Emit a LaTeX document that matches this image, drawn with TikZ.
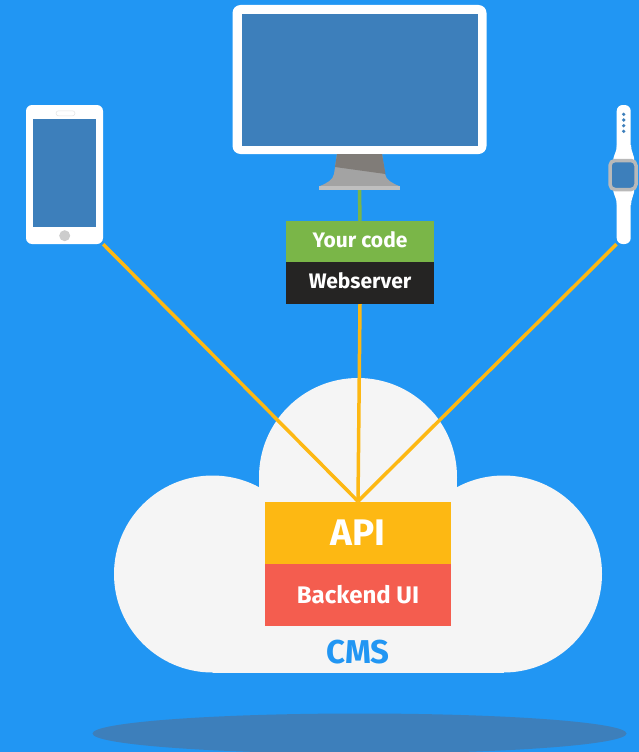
\documentclass[tikz,border=0pt]{standalone}
\usepackage{fontspec}
\setmainfont{Fira Sans}
\usetikzlibrary{backgrounds}
\definecolor{skyblue}{HTML}{2196F3}
\definecolor{steelscreen}{HTML}{3D7FBB}
\definecolor{cloudwhite}{HTML}{F5F5F5}
\definecolor{apiyellow}{HTML}{FDB813}
\definecolor{backendred}{HTML}{F45D4F}
\definecolor{codegreen}{HTML}{7AB648}
\definecolor{serverblack}{HTML}{252423}
\definecolor{standdark}{HTML}{807C78}
\definecolor{standlight}{HTML}{A3A3A3}
\tikzset{
  block/.style={inner sep=0pt,minimum width=148pt,minimum height=41.5pt,text=white,text height=15pt,text depth=4pt,font=\bfseries\fontsize{21}{25}\selectfont},
  cmsblock/.style={inner sep=0pt,minimum width=186pt,minimum height=62pt,text=white},
  device/.style={fill=white,inner sep=0pt},
  screen/.style={fill=steelscreen,inner sep=0pt},
  apilink/.style={draw=apiyellow,line width=3.5pt},
}
\begin{document}
\begin{tikzpicture}[x=1pt,y=-1pt]
\useasboundingbox (0,0) rectangle (639,752);
% devices
\node[device,rounded corners=8pt,minimum width=254pt,minimum height=149pt] (monitor) at (359.5,79.5) {};
\node[screen,minimum width=236pt,minimum height=132pt] (monitorscreen) at (359.5,80) {};
\fill[standlight] (337,154) -- (382,154) -- (385,174) .. controls (386,180) and (392,183) .. (399,186) -- (320,186) .. controls (327,183) and (333,180) .. (334,174) -- cycle;
\fill[standdark] (337,154) -- (382,154) -- (385.5,174) -- (335,167) -- cycle;
\node[fill=gray!50,inner sep=0pt,minimum width=81pt,minimum height=4pt] (standbase) at (359.5,188) {};
\node[device,rounded corners=6pt,minimum width=77pt,minimum height=139pt] (phone) at (64.5,174.5) {};
\node[screen,minimum width=62.5pt,minimum height=108pt] (phonescreen) at (64.7,173) {};
\node[device,draw=cloudwhite!85!gray,rounded corners=2.5pt,minimum width=19pt,minimum height=5pt,line width=0.5pt] (speaker) at (65.5,113.3) {};
\node[circle,fill=gray!40,inner sep=0pt,minimum size=11pt] (homebutton) at (64.7,235.7) {};
\node[device,rounded corners=6pt,minimum width=14pt,minimum height=139pt] (strap) at (623.7,174.5) {};
\fill[white] (617,145) .. controls (617,152) and (613,155) .. (613,162) -- (634.5,162) .. controls (634.5,155) and (631,152) .. (631,145) -- cycle;
\fill[white] (613,188) .. controls (613,195) and (617,198) .. (617,205) -- (631,205) .. controls (631,198) and (634.5,195) .. (634.5,188) -- cycle;
\node[screen,draw=gray!55,line width=3.5pt,rounded corners=5pt,minimum width=26pt,minimum height=29pt] (watchface) at (623,175) {};
\foreach \ypos in {114.3,120,125.7,131.3}
  \fill[steelscreen] (623.7,\ypos) circle (1.8);
% stacks
\node[block,fill=codegreen] (code) at (360,241.7) {Your code};
\node[block,fill=serverblack,yshift=0pt] (webserver) at (360,283.2) {Webserver};
\node[cmsblock,fill=apiyellow,font=\bfseries\fontsize{37}{44}\selectfont] (api) at (358,532.5) {API};
\node[cmsblock,fill=backendred,font=\bfseries\fontsize{24}{29}\selectfont] (backend) at (358,594.7) {Backend UI};
\node[text=skyblue,inner sep=0pt,font=\bfseries\fontsize{33}{40}\selectfont] (cms) at (358,652) {CMS};
% things behind
\begin{scope}[on background layer]
\fill[skyblue] (0,0) rectangle (639,752);
\fill[steelscreen] (359.5,733.5) ellipse (267 and 20);
\fill[cloudwhite] (212.5,574) circle (98.5);
\fill[cloudwhite] (503.5,574) circle (98.5);
\fill[cloudwhite] (358,477) circle (99);
\fill[cloudwhite] (212.5,574) rectangle (503.5,672.5);
\fill[cloudwhite] (259,477) rectangle (457,574);
\draw[draw=codegreen,line width=3.5pt] (standbase.south) -- (code.north);
\draw[apilink] (phone.south east) -- (api.north);
\draw[apilink] (webserver.south) -- (api.north);
\draw[apilink] (strap.south west) -- (api.north);
\end{scope}
\end{tikzpicture}
\end{document}
